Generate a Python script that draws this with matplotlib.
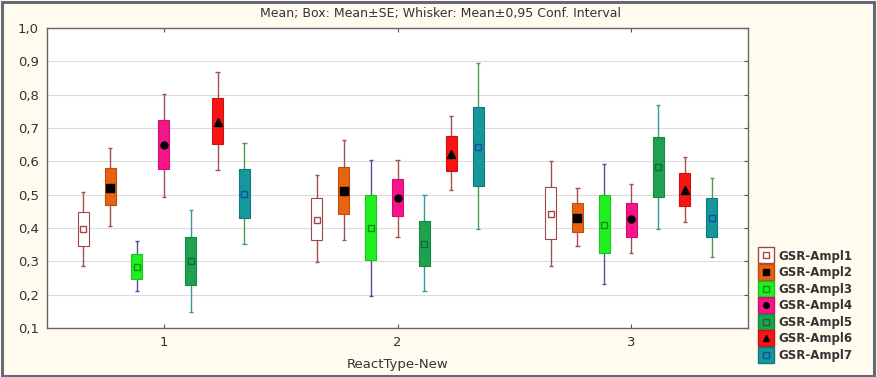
import matplotlib.pyplot as plt
from matplotlib.lines import Line2D
from matplotlib.patches import Rectangle
import numpy as np

# data: 7 series x 3 groups (ReactType-New = 1, 2, 3)
groups = [1, 2, 3]
series = ['GSR-Ampl1', 'GSR-Ampl2', 'GSR-Ampl3', 'GSR-Ampl4',
          'GSR-Ampl5', 'GSR-Ampl6', 'GSR-Ampl7']
means = [[0.398, 0.425, 0.442],
         [0.520, 0.510, 0.431],
         [0.283, 0.400, 0.409],
         [0.649, 0.490, 0.426],
         [0.300, 0.353, 0.584],
         [0.717, 0.623, 0.514],
         [0.502, 0.644, 0.431]]
box_lo = [[0.346, 0.365, 0.366],
          [0.470, 0.442, 0.389],
          [0.248, 0.303, 0.326],
          [0.576, 0.435, 0.374],
          [0.228, 0.285, 0.492],
          [0.651, 0.571, 0.467],
          [0.431, 0.527, 0.374]]
box_hi = [[0.449, 0.490, 0.522],
          [0.580, 0.583, 0.474],
          [0.322, 0.498, 0.499],
          [0.724, 0.546, 0.474],
          [0.373, 0.422, 0.674],
          [0.789, 0.677, 0.564],
          [0.576, 0.764, 0.489]]
wh_lo = [[0.287, 0.297, 0.286],
         [0.405, 0.365, 0.347],
         [0.210, 0.196, 0.232],
         [0.494, 0.373, 0.324],
         [0.148, 0.210, 0.397],
         [0.575, 0.514, 0.417],
         [0.352, 0.397, 0.314]]
wh_hi = [[0.509, 0.558, 0.601],
         [0.640, 0.663, 0.519],
         [0.360, 0.604, 0.591],
         [0.803, 0.605, 0.531],
         [0.455, 0.498, 0.769],
         [0.867, 0.736, 0.614],
         [0.656, 0.896, 0.549]]

# styles
face = ['white', '#e8620f', '#1ff01f', '#f5148a', '#1ea24e', '#f81414', '#15979c']
edge = ['#a04848', '#b85010', '#20c020', '#d01070', '#188840', '#d01010', '#107a80']
wcol = ['#a05050', '#a05050', '#5a4aa0', '#a05050', '#3a9a9a', '#a05050', '#4a9a5a']
mk = ['s', 's', 's', 'o', 's', '^', 's']
mface = ['white', 'black', 'none', 'black', 'none', 'black', 'none']
medge = ['#a04848', 'black', '#109010', 'black', '#0e6a38', 'black', '#1050a0']
msize = [5, 6, 5, 5, 5, 6, 5]

bg = '#fffbef'
fig = plt.figure(figsize=(8.77, 3.77), dpi=100, facecolor=bg)
ax = fig.add_axes([0.0536, 0.130, 0.7994, 0.796])
ax.set_facecolor('white')

step = 0.115
bw = 0.047
cap = 0.009
for i in range(len(series)):
    xs = np.array(groups) + (i - 3) * step
    lo = np.array(box_lo[i]); hi = np.array(box_hi[i])
    ax.vlines(xs, wh_lo[i], lo, color=wcol[i], lw=1, zorder=2)
    ax.vlines(xs, hi, wh_hi[i], color=wcol[i], lw=1, zorder=2)
    ax.hlines(wh_lo[i], xs - cap, xs + cap, color=wcol[i], lw=1, zorder=2)
    ax.hlines(wh_hi[i], xs - cap, xs + cap, color=wcol[i], lw=1, zorder=2)
    ax.bar(xs, hi - lo, bottom=lo, width=bw, color=face[i],
           edgecolor=edge[i], lw=0.8, zorder=3)
    ax.plot(xs, means[i], ls='none', marker=mk[i], ms=msize[i],
            mfc=mface[i], mec=medge[i], mew=1, zorder=4)

ax.set_xlim(0.5, 3.5)
ax.set_ylim(0.1, 1.0)
ax.set_xticks(groups)
yt = np.round(np.arange(0.1, 1.01, 0.1), 1)
ax.set_yticks(yt)
ax.set_yticklabels([f'{v:.1f}'.replace('.', ',') for v in yt])
ax.grid(axis='y', color='#dcdcdc', lw=0.8)
ax.set_axisbelow(True)
ax.tick_params(direction='in', top=True, right=True, length=3,
               labelsize=9.5, labelcolor='#333333', color='#555555', pad=6)
ax.tick_params(axis='y', left=False)
for s in ax.spines.values():
    s.set_color('#666666')
    s.set_linewidth(1)

ax.set_xlabel('ReactType-New', fontsize=9.5, color='#333333', labelpad=6)
fig.text(0.502, 0.965, 'Mean; Box: Mean±SE; Whisker: Mean±0,95 Conf. Interval',
         ha='center', va='center', fontsize=9, color='#333333')

# legend
handles = []
for i in range(len(series)):
    box = Line2D([], [], ls='none', marker='s', ms=11, mfc=face[i], mec=edge[i], mew=1)
    dot = Line2D([], [], ls='none', marker=mk[i], ms=msize[i] - 1, mfc=mface[i],
                 mec=medge[i], mew=1)
    handles.append((box, dot))
fig.legend(handles, series, loc='lower left', bbox_to_anchor=(0.855, 0.012),
           frameon=False, handlelength=1.0, handletextpad=0.5, labelspacing=0.3,
           prop={'size': 8.5, 'weight': 'bold'}, labelcolor='#333333')

# outer frame
fig.patches.append(Rectangle((0.002, 0.003), 0.995, 0.993, transform=fig.transFigure,
                             fill=False, edgecolor='#666a78', lw=2.2))

fig.savefig('out.png', dpi=100, facecolor=bg)
